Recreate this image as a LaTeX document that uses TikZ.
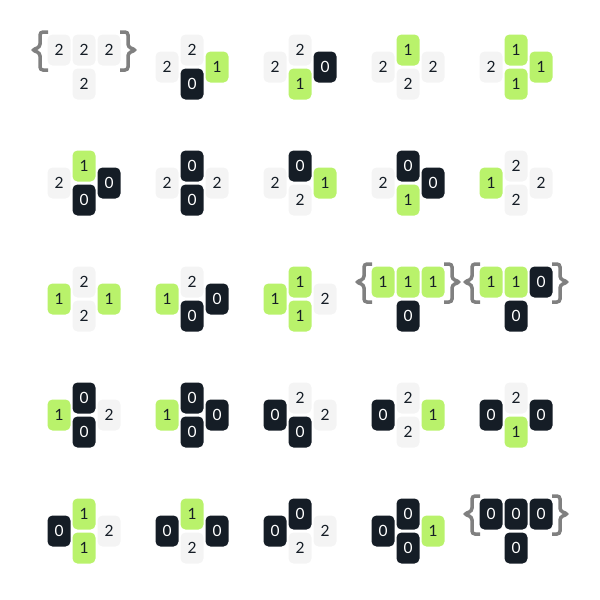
\documentclass[tikz,border=0pt]{standalone}
\usepackage{fontspec}
\setsansfont{Lato}
\definecolor{tiledark}{HTML}{151D26}
\definecolor{tilelime}{HTML}{B9F26B}
\definecolor{tilepale}{HTML}{F4F4F4}
\definecolor{bracegray}{HTML}{808080}
\begin{document}
\begin{tikzpicture}[x=1pt, y=-1pt,
  tile/.style={rounded corners=5pt, minimum width=23pt, minimum height=31pt, inner sep=0pt, font={\sffamily\fontsize{15.5}{15.5}\selectfont}},
  v0/.style={tile, fill=tiledark, text=white},
  v1/.style={tile, fill=tilelime, text=tiledark},
  v2/.style={tile, fill=tilepale, text=tiledark},
  bracepath/.style={draw=bracegray, line width=3.5pt, rounded corners=3pt}]
\useasboundingbox (0,0) rectangle (600,600);
\draw[bracepath] (48,32) -- (40,32) -- (40,47) -- (32,50) -- (40,53) -- (40,70) -- (48,70);
\draw[bracepath] (120,32) -- (128,32) -- (128,47) -- (136,50) -- (128,53) -- (128,70) -- (120,70);
\node[v2] (g11a) at (59,50) {2};
\node[v2] (g11b) at (84,50) {2};
\node[v2] (g11c) at (109,50) {2};
\node[v2] (g11d) at (84,84) {2};
\node[v2] (g12t) at (192,50) {2};
\node[v2] (g12l) at (167,67) {2};
\node[v1] (g12r) at (217,67) {1};
\node[v0] (g12b) at (192,84) {0};
\node[v2] (g13t) at (300,50) {2};
\node[v2] (g13l) at (275,67) {2};
\node[v0] (g13r) at (325,67) {0};
\node[v1] (g13b) at (300,84) {1};
\node[v1] (g14t) at (408,50) {1};
\node[v2] (g14l) at (383,67) {2};
\node[v2] (g14r) at (433,67) {2};
\node[v2] (g14b) at (408,84) {2};
\node[v1] (g15t) at (516,50) {1};
\node[v2] (g15l) at (491,67) {2};
\node[v1] (g15r) at (541,67) {1};
\node[v1] (g15b) at (516,84) {1};
\node[v1] (g21t) at (84,166) {1};
\node[v2] (g21l) at (59,183) {2};
\node[v0] (g21r) at (109,183) {0};
\node[v0] (g21b) at (84,200) {0};
\node[v0] (g22t) at (192,166) {0};
\node[v2] (g22l) at (167,183) {2};
\node[v2] (g22r) at (217,183) {2};
\node[v0] (g22b) at (192,200) {0};
\node[v0] (g23t) at (300,166) {0};
\node[v2] (g23l) at (275,183) {2};
\node[v1] (g23r) at (325,183) {1};
\node[v2] (g23b) at (300,200) {2};
\node[v0] (g24t) at (408,166) {0};
\node[v2] (g24l) at (383,183) {2};
\node[v0] (g24r) at (433,183) {0};
\node[v1] (g24b) at (408,200) {1};
\node[v2] (g25t) at (516,166) {2};
\node[v1] (g25l) at (491,183) {1};
\node[v2] (g25r) at (541,183) {2};
\node[v2] (g25b) at (516,200) {2};
\node[v2] (g31t) at (84,282) {2};
\node[v1] (g31l) at (59,299) {1};
\node[v1] (g31r) at (109,299) {1};
\node[v2] (g31b) at (84,316) {2};
\node[v2] (g32t) at (192,282) {2};
\node[v1] (g32l) at (167,299) {1};
\node[v0] (g32r) at (217,299) {0};
\node[v0] (g32b) at (192,316) {0};
\node[v1] (g33t) at (300,282) {1};
\node[v1] (g33l) at (275,299) {1};
\node[v2] (g33r) at (325,299) {2};
\node[v1] (g33b) at (300,316) {1};
\draw[bracepath] (372,264) -- (364,264) -- (364,279) -- (356,282) -- (364,285) -- (364,302) -- (372,302);
\draw[bracepath] (444,264) -- (452,264) -- (452,279) -- (460,282) -- (452,285) -- (452,302) -- (444,302);
\node[v1] (g34a) at (383,282) {1};
\node[v1] (g34b) at (408,282) {1};
\node[v1] (g34c) at (433,282) {1};
\node[v0] (g34d) at (408,316) {0};
\draw[bracepath] (480,264) -- (472,264) -- (472,279) -- (464,282) -- (472,285) -- (472,302) -- (480,302);
\draw[bracepath] (552,264) -- (560,264) -- (560,279) -- (568,282) -- (560,285) -- (560,302) -- (552,302);
\node[v1] (g35a) at (491,282) {1};
\node[v1] (g35b) at (516,282) {1};
\node[v0] (g35c) at (541,282) {0};
\node[v0] (g35d) at (516,316) {0};
\node[v0] (g41t) at (84,398) {0};
\node[v1] (g41l) at (59,415) {1};
\node[v2] (g41r) at (109,415) {2};
\node[v0] (g41b) at (84,432) {0};
\node[v0] (g42t) at (192,398) {0};
\node[v1] (g42l) at (167,415) {1};
\node[v0] (g42r) at (217,415) {0};
\node[v0] (g42b) at (192,432) {0};
\node[v2] (g43t) at (300,398) {2};
\node[v0] (g43l) at (275,415) {0};
\node[v2] (g43r) at (325,415) {2};
\node[v0] (g43b) at (300,432) {0};
\node[v2] (g44t) at (408,398) {2};
\node[v0] (g44l) at (383,415) {0};
\node[v1] (g44r) at (433,415) {1};
\node[v2] (g44b) at (408,432) {2};
\node[v2] (g45t) at (516,398) {2};
\node[v0] (g45l) at (491,415) {0};
\node[v0] (g45r) at (541,415) {0};
\node[v1] (g45b) at (516,432) {1};
\node[v1] (g51t) at (84,514) {1};
\node[v0] (g51l) at (59,531) {0};
\node[v2] (g51r) at (109,531) {2};
\node[v1] (g51b) at (84,548) {1};
\node[v1] (g52t) at (192,514) {1};
\node[v0] (g52l) at (167,531) {0};
\node[v0] (g52r) at (217,531) {0};
\node[v2] (g52b) at (192,548) {2};
\node[v0] (g53t) at (300,514) {0};
\node[v0] (g53l) at (275,531) {0};
\node[v2] (g53r) at (325,531) {2};
\node[v2] (g53b) at (300,548) {2};
\node[v0] (g54t) at (408,514) {0};
\node[v0] (g54l) at (383,531) {0};
\node[v1] (g54r) at (433,531) {1};
\node[v0] (g54b) at (408,548) {0};
\draw[bracepath] (480,496) -- (472,496) -- (472,511) -- (464,514) -- (472,517) -- (472,534) -- (480,534);
\draw[bracepath] (552,496) -- (560,496) -- (560,511) -- (568,514) -- (560,517) -- (560,534) -- (552,534);
\node[v0] (g55a) at (491,514) {0};
\node[v0] (g55b) at (516,514) {0};
\node[v0] (g55c) at (541,514) {0};
\node[v0] (g55d) at (516,548) {0};
\end{tikzpicture}
\end{document}
